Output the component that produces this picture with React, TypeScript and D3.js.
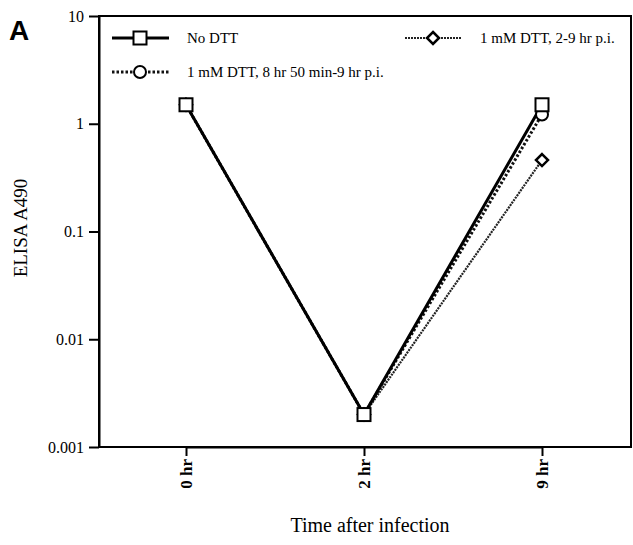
import React, { useEffect, useRef } from "react";
import * as d3 from "d3";

const timeLabels = ["0 hr", "2 hr", "9 hr"];
const yTicks = [0.001, 0.01, 0.1, 1, 10];
const noDtt = [1.5, 0.002, 1.5];
const dttLate = [1.5, 0.002, 1.22];
const dttEarly = [1.5, 0.002, 0.46];

const series = [
  { name: "1 mM DTT, 2-9 hr p.i.", values: dttEarly, marker: "diamond", width: 2.2, dash: "2,1", color: "#222" },
  { name: "1 mM DTT, 8 hr 50 min-9 hr p.i.", values: dttLate, marker: "circle", width: 3, dash: "2.5,2", color: "#111" },
  { name: "No DTT", values: noDtt, marker: "square", width: 3, dash: null, color: "#000" },
];

const App = () => {
  const svgRef = useRef<SVGSVGElement>(null);

  useEffect(() => {
    const width = 633;
    const height = 545;
    const m = { left: 99, right: 631, top: 16, bottom: 447 };

    const svg = d3.select(svgRef.current);
    svg.selectAll("*").remove();
    svg.attr("width", width).attr("height", height);

    const x = d3.scalePoint().domain(timeLabels).range([186, 542]);
    const y = d3.scaleLog().domain([0.001, 10]).range([m.bottom, m.top]);

    const serif = "Liberation Serif, serif";

    // frame
    svg
      .append("rect")
      .attr("x", m.left)
      .attr("y", m.top)
      .attr("width", m.right - m.left)
      .attr("height", m.bottom - m.top)
      .attr("fill", "none")
      .attr("stroke", "#000")
      .attr("stroke-width", 2);

    const yAxis = svg
      .append("g")
      .attr("transform", `translate(${m.left},0)`)
      .call(
        d3
          .axisLeft(y)
          .tickValues(yTicks)
          .tickFormat((d) => String(d))
          .tickSize(10)
          .tickSizeOuter(0)
      );

    const xAxis = svg
      .append("g")
      .attr("transform", `translate(0,${m.bottom})`)
      .call(d3.axisBottom(x).tickSize(9).tickSizeOuter(0));

    svg.selectAll(".domain").attr("stroke", "#000").attr("stroke-width", 2);
    svg.selectAll(".tick line").attr("stroke", "#000").attr("stroke-width", 2);

    yAxis
      .selectAll(".tick text")
      .attr("fill", "#000")
      .style("font-family", serif)
      .style("font-size", "16px")
      .attr("x", -15);

    xAxis
      .selectAll(".tick text")
      .attr("fill", "#000")
      .style("font-family", serif)
      .style("font-size", "17px")
      .style("font-weight", "bold")
      .attr("transform", "rotate(-90)")
      .attr("text-anchor", "end")
      .attr("dy", "0.35em")
      .attr("x", -12)
      .attr("y", 0);

    // titles
    svg
      .append("text")
      .attr("x", 370)
      .attr("y", 532)
      .attr("text-anchor", "middle")
      .style("font-family", serif)
      .style("font-size", "20px")
      .text("Time after infection");

    svg
      .append("text")
      .attr("transform", "translate(27,228) rotate(-90)")
      .attr("text-anchor", "middle")
      .style("font-family", serif)
      .style("font-size", "19px")
      .text("ELISA A490");

    svg
      .append("text")
      .attr("x", 9)
      .attr("y", 40)
      .style("font-family", "Liberation Sans, Arial, sans-serif")
      .style("font-weight", "bold")
      .style("font-size", "28px")
      .text("A");

    const drawMarker = (g, kind, cx, cy) => {
      if (kind === "square") {
        g.append("rect")
          .attr("x", cx - 6.5)
          .attr("y", cy - 6.5)
          .attr("width", 13)
          .attr("height", 13)
          .attr("fill", "#fff")
          .attr("stroke", "#000")
          .attr("stroke-width", 2);
      } else if (kind === "circle") {
        g.append("circle")
          .attr("cx", cx)
          .attr("cy", cy)
          .attr("r", 6)
          .attr("fill", "#fff")
          .attr("stroke", "#000")
          .attr("stroke-width", 2);
      } else {
        g.append("path")
          .attr("d", `M${cx},${cy - 6}L${cx + 6},${cy}L${cx},${cy + 6}L${cx - 6},${cy}Z`)
          .attr("fill", "#fff")
          .attr("stroke", "#000")
          .attr("stroke-width", 2.5);
      }
    };

    const line = d3
      .line<number>()
      .x((d, i) => x(timeLabels[i]))
      .y((d) => y(d));

    series.forEach((s) => {
      svg
        .append("path")
        .datum(s.values)
        .attr("fill", "none")
        .attr("stroke", s.color)
        .attr("stroke-width", s.width)
        .attr("stroke-dasharray", s.dash)
        .attr("d", line);
    });
    series.forEach((s) => {
      const g = svg.append("g");
      s.values.forEach((v, i) => drawMarker(g, s.marker, x(timeLabels[i]), y(v)));
    });

    // legend
    const legend = [
      { s: series[2], lx: 112, ly: 38 },
      { s: series[0], lx: 405, ly: 38 },
      { s: series[1], lx: 112, ly: 72 },
    ];
    legend.forEach(({ s, lx, ly }) => {
      const g = svg.append("g");
      g.append("line")
        .attr("x1", lx)
        .attr("x2", lx + 57)
        .attr("y1", ly)
        .attr("y2", ly)
        .attr("stroke", s.color)
        .attr("stroke-width", s.width)
        .attr("stroke-dasharray", s.dash);
      drawMarker(g, s.marker, lx + 28, ly);
      g.append("text")
        .attr("x", lx + 75)
        .attr("y", ly)
        .attr("dy", "0.35em")
        .style("font-family", serif)
        .style("font-size", "15px")
        .text(s.name);
    });
  }, []);

  return <svg ref={svgRef} style={{ position: "absolute", left: 0, top: 0 }}></svg>;
};

export default App;
